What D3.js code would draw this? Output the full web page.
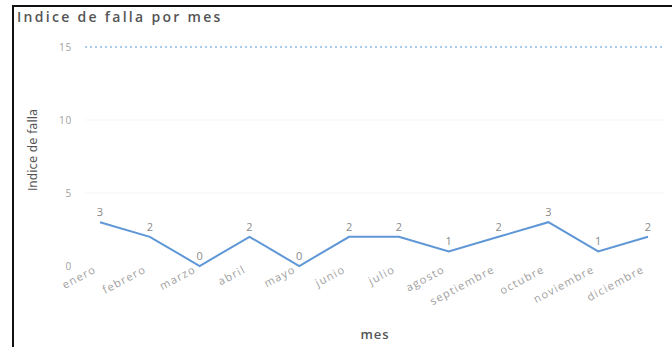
<!DOCTYPE html>
<html>
<head>
<meta charset="utf-8">
<script src="https://cdn.jsdelivr.net/npm/d3@7"></script>
<style>
  html, body { margin: 0; padding: 0; background: #fff; }
  svg { display: block; font-family: "Open Sans", "DejaVu Sans", sans-serif; }
</style>
</head>
<body>
<svg id="chart" width="672" height="347"></svg>
<script>
// Monthly failure index
const months = ["enero", "febrero", "marzo", "abril", "mayo", "junio", "julio",
                "agosto", "septiembre", "octubre", "noviembre", "diciembre"];
const failureIndex = [3, 2, 0, 2, 0, 2, 2, 1, 2, 3, 1, 2];
const yTicks = [0, 5, 10, 15];
const targetLine = 15;

const svg = d3.select("#chart");
const W = 672, H = 347;

// frame
svg.append("path")
  .attr("d", `M13,${H} L13,6 L${W},6`)
  .attr("fill", "none").attr("stroke", "#111").attr("stroke-width", 2);

// title
svg.append("text")
  .attr("x", 17).attr("y", 22)
  .attr("font-size", 14).attr("font-weight", 600).attr("fill", "#555")
  .attr("letter-spacing", 2.3)
  .text("Indice de falla por mes");

const x = d3.scalePoint().domain(months).range([100, 648]);
const y = d3.scaleLinear().domain([0, 15]).range([266, 47]);

// faint gridlines
svg.append("g").selectAll("line")
  .data(yTicks.filter(t => t > 0 && t < targetLine))
  .join("line")
  .attr("x1", 85).attr("x2", 665)
  .attr("y1", d => y(d)).attr("y2", d => y(d))
  .attr("stroke", "#f5f5f5").attr("stroke-width", 1);

// dotted reference line
svg.append("line")
  .attr("x1", 85).attr("x2", 665)
  .attr("y1", y(targetLine)).attr("y2", y(targetLine))
  .attr("stroke", "#a9cbee").attr("stroke-width", 2)
  .attr("stroke-dasharray", "2,3");

// y axis (labels only)
const yAxis = d3.axisLeft(y).tickValues(yTicks).tickSize(0).tickPadding(0);
const gy = svg.append("g").attr("transform", "translate(72,0)").call(yAxis);
gy.select(".domain").remove();
gy.selectAll("text").attr("font-size", 10).attr("fill", "#a0a0a0")
  .attr("letter-spacing", 0.8)
  .attr("font-family", "'Open Sans', sans-serif");

// y axis title
svg.append("text")
  .attr("transform", "translate(37,150) rotate(-90)")
  .attr("text-anchor", "middle")
  .attr("font-size", 13).attr("fill", "#555")
  .attr("font-family", "'Liberation Sans Narrow', 'DejaVu Sans Condensed', sans-serif")
  .text("Indice de falla");

// x axis (labels only)
const xAxis = d3.axisBottom(x).tickSize(0).tickPadding(0);
const gx = svg.append("g").attr("transform", "translate(0,265)").call(xAxis);
gx.select(".domain").remove();
gx.selectAll("text")
  .attr("font-size", 11).attr("fill", "#a0a0a0")
  .attr("font-family", "'Open Sans', sans-serif")
  .attr("letter-spacing", 1.3)
  .attr("text-anchor", "end")
  .attr("dy", "0.7em")
  .attr("transform", "translate(-7,0) rotate(-28)");

// x axis title
svg.append("text")
  .attr("x", 375).attr("y", 339)
  .attr("text-anchor", "middle")
  .attr("font-size", 13).attr("font-weight", 600).attr("fill", "#555")
  .attr("letter-spacing", 1)
  .text("mes");

// line
const data = months.map((m, i) => ({ m, v: failureIndex[i] }));
svg.append("path")
  .datum(data)
  .attr("fill", "none")
  .attr("stroke", "#5f97d6").attr("stroke-width", 2)
  .attr("stroke-linejoin", "miter")
  .attr("d", d3.line().x(d => x(d.m)).y(d => y(d.v)));

// data labels
svg.append("g").selectAll("text")
  .data(data)
  .join("text")
  .attr("x", d => x(d.m)).attr("y", d => y(d.v) - 6)
  .attr("text-anchor", "middle")
  .attr("font-size", 11).attr("fill", "#8a8a8a")
  .text(d => d.v);
</script>
</body>
</html>
